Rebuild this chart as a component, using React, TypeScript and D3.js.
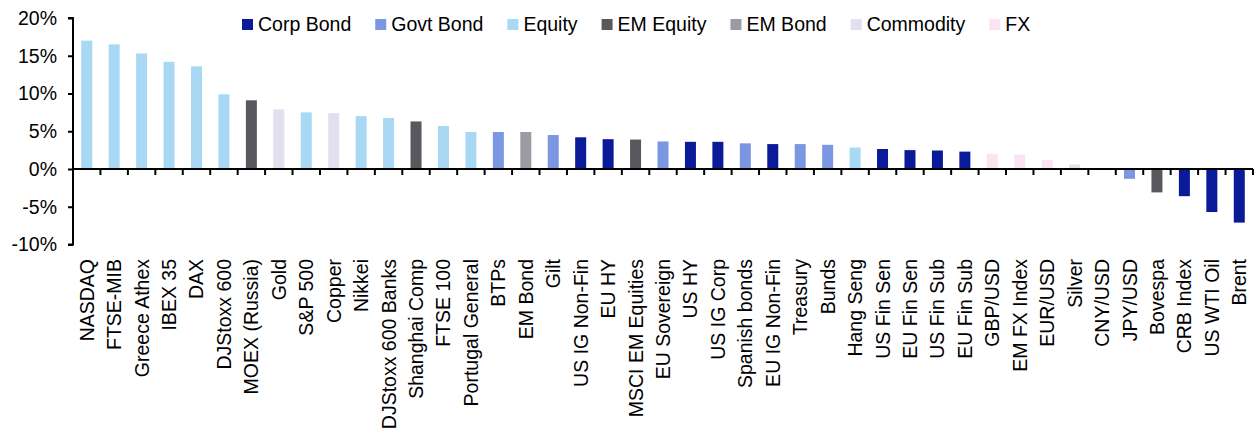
import { useEffect, useRef } from "react";
import * as d3 from "d3";

const labels = [
  "NASDAQ", "FTSE-MIB", "Greece Athex", "IBEX 35", "DAX", "DJStoxx 600",
  "MOEX (Russia)", "Gold", "S&P 500", "Copper", "Nikkei", "DJStoxx 600 Banks",
  "Shanghai Comp", "FTSE 100", "Portugal General", "BTPs", "EM Bond", "Gilt",
  "US IG Non-Fin", "EU HY", "MSCI EM Equities", "EU Sovereign", "US HY",
  "US IG Corp", "Spanish bonds", "EU IG Non-Fin", "Treasury", "Bunds",
  "Hang Seng", "US Fin Sen", "EU Fin Sen", "US Fin Sub", "EU Fin Sub",
  "GBP/USD", "EM FX Index", "EUR/USD", "Silver", "CNY/USD", "JPY/USD",
  "Bovespa", "CRB Index", "US WTI Oil", "Brent",
];

const values = [
  17.0, 16.5, 15.3, 14.2, 13.6, 9.9,
  9.1, 7.9, 7.5, 7.4, 7.0, 6.75,
  6.3, 5.7, 4.9, 4.9, 4.9, 4.5,
  4.2, 3.95, 3.9, 3.65, 3.6,
  3.6, 3.4, 3.3, 3.3, 3.2,
  2.85, 2.65, 2.5, 2.45, 2.3,
  2.0, 1.9, 1.2, 0.6, 0.05, -1.3,
  -3.1, -3.6, -5.7, -7.1,
];

const groups = [
  "Equity", "Equity", "Equity", "Equity", "Equity", "Equity",
  "EM Equity", "Commodity", "Equity", "Commodity", "Equity", "Equity",
  "EM Equity", "Equity", "Equity", "Govt Bond", "EM Bond", "Govt Bond",
  "Corp Bond", "Corp Bond", "EM Equity", "Govt Bond", "Corp Bond",
  "Corp Bond", "Govt Bond", "Corp Bond", "Govt Bond", "Govt Bond",
  "Equity", "Corp Bond", "Corp Bond", "Corp Bond", "Corp Bond",
  "FX", "FX", "FX", "Commodity", "FX", "Govt Bond",
  "EM Equity", "Corp Bond", "Corp Bond", "Corp Bond",
];

const legendNames = ["Corp Bond", "Govt Bond", "Equity", "EM Equity", "EM Bond", "Commodity", "FX"];
const legendColors = ["#0a1a98", "#7b97e1", "#a9d8f5", "#58585f", "#9b9ba3", "#e0e0ef", "#fbe3f3"];

const yTicks = [-10, -5, 0, 5, 10, 15, 20];

export default function App() {
  const ref = useRef<SVGSVGElement>(null);

  useEffect(() => {
    if (!ref.current) return;
    const width = 1256;
    const height = 436;
    const left = 73;
    const right = 1253;
    const top = 18;
    const bottom = 244.5;
    const font = "'Liberation Sans', Arial, sans-serif";
    const fs = 19.5;

    const svg = d3.select(ref.current);
    svg.selectAll("*").remove();
    svg.attr("width", width).attr("height", height);

    const x = d3.scaleBand<string>().domain(labels).range([left, right]).paddingInner(0.6).paddingOuter(0.3);
    const y = d3.scaleLinear().domain([-10, 20]).range([bottom, top]);
    const color = d3.scaleOrdinal<string, string>().domain(legendNames).range(legendColors);

    const step = (right - left) / labels.length;

    // bars
    svg
      .append("g")
      .selectAll("rect")
      .data(values)
      .enter()
      .append("rect")
      .attr("x", (_d, i) => left + step * i + (step - 11) / 2)
      .attr("width", 11)
      .attr("y", (d) => y(Math.max(0, d)))
      .attr("height", (d) => Math.abs(y(d) - y(0)))
      .attr("fill", (_d, i) => color(groups[i]));

    // y axis
    const yAxis = svg
      .append("g")
      .attr("transform", `translate(${left},0)`)
      .call(
        d3
          .axisLeft(y)
          .tickValues(yTicks)
          .tickSize(5)
          .tickPadding(11)
          .tickFormat((d) => `${d}%`)
      );
    yAxis.select(".domain").attr("stroke", "#000").attr("stroke-width", 2).attr("d", `M-5,${y(20)}H0V${y(-10)}H-5`);
    yAxis.selectAll(".tick line").attr("stroke", "#000").attr("stroke-width", 2);
    yAxis
      .selectAll(".tick text")
      .attr("font-family", font)
      .attr("font-size", fs)
      .attr("fill", "#000");

    // zero line with category ticks
    const xAxis = svg.append("g");
    xAxis
      .append("line")
      .attr("x1", left)
      .attr("x2", right)
      .attr("y1", y(0))
      .attr("y2", y(0))
      .attr("stroke", "#000")
      .attr("stroke-width", 2);
    xAxis
      .selectAll("line.tk")
      .data(labels)
      .enter()
      .append("line")
      .attr("class", "tk")
      .attr("x1", (_d, i) => left + step * (i + 1))
      .attr("x2", (_d, i) => left + step * (i + 1))
      .attr("y1", y(0))
      .attr("y2", y(0) + 6)
      .attr("stroke", "#000")
      .attr("stroke-width", 2);

    // category labels
    svg
      .append("g")
      .selectAll("text")
      .data(labels)
      .enter()
      .append("text")
      .attr("transform", (d) => `translate(${(x(d) ?? 0) + x.bandwidth() / 2 + 7},259) rotate(-90)`)
      .attr("text-anchor", "end")
      .attr("font-family", font)
      .attr("font-size", fs)
      .attr("fill", "#000")
      .text((d) => d);

    // legend
    const legend = svg.append("g");
    let lx = 242;
    legendNames.forEach((name) => {
      legend
        .append("rect")
        .attr("x", lx)
        .attr("y", 19)
        .attr("width", 11)
        .attr("height", 11)
        .attr("fill", color(name));
      const t = legend
        .append("text")
        .attr("x", lx + 16)
        .attr("y", 31)
        .attr("font-family", font)
        .attr("font-size", fs)
        .attr("fill", "#000")
        .text(name);
      const w = (t.node() as SVGTextElement).getComputedTextLength();
      lx += 16 + w + 24;
    });
  }, []);

  return <svg ref={ref} style={{ position: "absolute", left: 0, top: 0 }} />;
}
